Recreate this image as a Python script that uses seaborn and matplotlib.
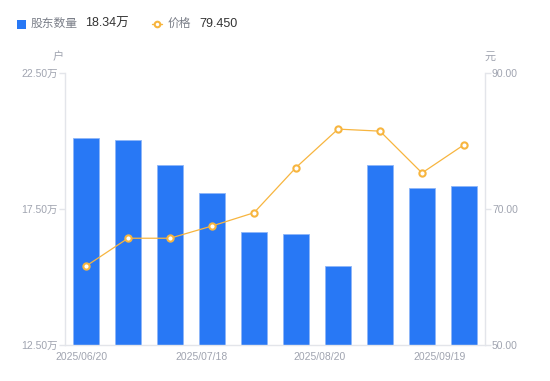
import matplotlib
matplotlib.use("Agg")
import matplotlib.pyplot as plt
import seaborn as sns
import pandas as pd
import numpy as np

# ---- data ----
periods = list(range(10))
holders = [20.11, 20.04, 19.11, 18.09, 16.65, 16.57, 15.40, 19.12, 18.27, 18.34]  # 万户
prices = [61.6, 65.7, 65.7, 67.5, 69.45, 76.1, 81.75, 81.45, 75.3, 79.45]
tick_labels = ["2025/06/20", "2025/07/18", "2025/08/20", "2025/09/19"]
tick_pos = [-0.1, 2.74, 5.57, 8.43]
left_ticks = [12.5, 17.5, 22.5]
right_ticks = [50, 70, 90]

sns.set_theme(style="white")
FAM = ['Liberation Sans', 'Noto Sans CJK SC', 'DejaVu Sans']
plt.rcParams['font.family'] = FAM

BLUE = "#2878F5"
ORANGE = "#F7B53F"
GRAY = "#A0A4B0"
AXC = "#E3E5EA"

df = pd.DataFrame({"p": periods, "h": holders, "price": prices})

fig = plt.figure(figsize=(5.5, 3.81), dpi=100)
ax = fig.add_axes([65/550, 1-345/381, 420/550, 272/381])

sns.barplot(data=df, x="p", y="h", color=BLUE, width=0.6, ax=ax,
            edgecolor="#8EB6F8", linewidth=0.6, saturation=1)
ax.set_ylim(12.5, 22.5)
ax.set_xlim(-0.5, 9.5)
ax.set_yticks(left_ticks)
ax.set_yticklabels([f"{v:.2f}万" for v in left_ticks])
ax.set_xticks(tick_pos)
ax.set_xticklabels(tick_labels)
ax.set_xlabel("")
ax.set_ylabel("")

ax2 = ax.twinx()
ax2.plot(df["p"], df["price"], color=ORANGE, lw=0.9, marker="o", ms=4.5,
         mfc="white", mec=ORANGE, mew=1.5, zorder=5)
ax2.set_ylim(50, 90)
ax2.set_yticks(right_ticks)
ax2.set_yticklabels([f"{v:.2f}" for v in right_ticks])
ax2.set_xlim(-0.5, 9.5)

for a in (ax, ax2):
    for s in a.spines.values():
        s.set_visible(False)
    a.grid(False)

ax.spines['left'].set_visible(True)
ax.spines['left'].set_color(AXC)
ax.spines['bottom'].set_visible(True)
ax.spines['bottom'].set_color(AXC)
ax2.spines['right'].set_visible(True)
ax2.spines['right'].set_color(AXC)
for s in ('left', 'bottom'):
    ax.spines[s].set_linewidth(1)
ax2.spines['right'].set_linewidth(1)

ax.tick_params(axis='y', colors=AXC, labelcolor=GRAY, labelsize=7.5, length=4, width=1, pad=1, left=True)
ax.tick_params(axis='x', labelcolor=GRAY, labelsize=7.5, length=0, pad=5)
ax2.tick_params(axis='y', colors=AXC, labelcolor=GRAY, labelsize=7.5, length=4, width=1, pad=1, right=True)

# unit labels
fig.text(58/550, 1-57/381, "户", color=GRAY, fontsize=8, ha="center", va="center")
fig.text(490/550, 1-57/381, "元", color=GRAY, fontsize=8, ha="center", va="center")

# legend
fig.patches.append(plt.Rectangle((17/550, 1-29/381), 9/550, 9/381, transform=fig.transFigure,
                                 facecolor=BLUE, edgecolor="none"))
fig.text(31/550, 1-24/381, "股东数量", color="#7A7E88", fontsize=8.5, va="center")
fig.text(85/550, 1-24/381, "18.34万", color="#333333", fontsize=9, va="center")
fig.lines.append(plt.Line2D([152/550, 162/550], [1-24/381, 1-24/381], transform=fig.transFigure,
                            color=ORANGE, lw=1))
fig.lines.append(plt.Line2D([157/550], [1-24/381], transform=fig.transFigure, marker="o", ms=4,
                            mfc="white", mec=ORANGE, mew=1.5, color=ORANGE))
fig.text(168/550, 1-24/381, "价格", color="#7A7E88", fontsize=8.5, va="center")
fig.text(199/550, 1-24/381, "79.450", color="#333333", fontsize=9, va="center")

fig.savefig("out.png", dpi=100)
